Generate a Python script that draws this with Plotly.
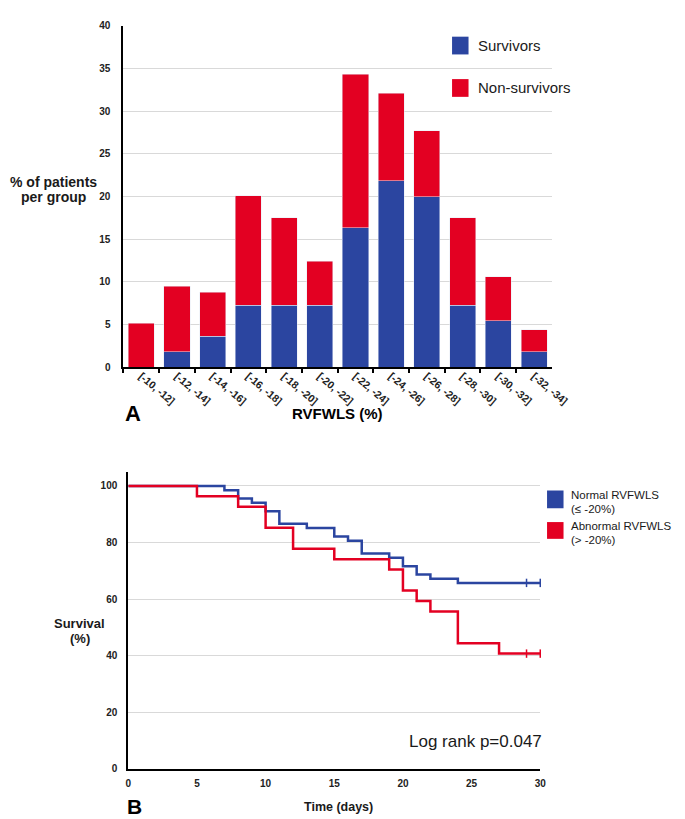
import plotly.graph_objects as go

W, H = 685, 819
FONT = "Liberation Sans, Arial, sans-serif"
BLUE = "#2b45a0"
RED = "#e30022"
GRID = "#d9d9d9"

# Panel A: RVFWLS distribution, % of patients per group
rvfwls_bins = ["[-10, -12]", "[-12, -14]", "[-14, -16]", "[-16, -18]", "[-18, -20]", "[-20, -22]",
               "[-22, -24]", "[-24, -26]", "[-26, -28]", "[-28, -30]", "[-30, -32]", "[-32, -34]"]
survivors_pct = [0, 1.82, 3.64, 7.27, 7.27, 7.27, 16.36, 21.82, 20.0, 7.27, 5.45, 1.82]
non_survivors_pct = [5.13, 7.69, 5.13, 12.82, 10.26, 5.13, 17.95, 10.26, 7.69, 10.26, 5.13, 2.56]

# Panel B: Kaplan-Meier survival
normal_days = [0, 7, 8, 9, 10, 11, 13, 15, 16, 17, 19, 20, 21, 22, 24, 30]
normal_surv = [100, 98.5, 95.5, 94.0, 91.0, 86.6, 85.1, 82.1, 80.6, 76.1, 74.6, 71.6, 68.7, 67.2, 65.7, 65.7]
abnormal_days = [0, 5, 8, 10, 12, 15, 19, 20, 21, 22, 24, 27, 30]
abnormal_surv = [100, 96.3, 92.6, 85.2, 77.8, 74.1, 70.4, 63.0, 59.3, 55.6, 44.4, 40.7, 40.7]
censor_days = [29, 30]
normal_censor = [65.7, 65.7]
abnormal_censor = [40.7, 40.7]


def px(x):
    return x / W


def py(y):
    return 1 - y / H


fig = go.Figure()

fig.add_trace(go.Bar(x=rvfwls_bins, y=survivors_pct, marker_color=BLUE, name="Survivors",
                     xaxis="x", yaxis="y"))
fig.add_trace(go.Bar(x=rvfwls_bins, y=non_survivors_pct, marker_color=RED, name="Non-survivors",
                     xaxis="x", yaxis="y"))

fig.add_trace(go.Scatter(x=normal_days, y=normal_surv, mode="lines",
                         line=dict(shape="hv", color=BLUE, width=2.5), xaxis="x2", yaxis="y2"))
fig.add_trace(go.Scatter(x=abnormal_days, y=abnormal_surv, mode="lines",
                         line=dict(shape="hv", color=RED, width=2.5), xaxis="x2", yaxis="y2"))
# censored observations
fig.add_trace(go.Scatter(x=censor_days, y=normal_censor, mode="markers", cliponaxis=False,
                         marker=dict(symbol="line-ns-open", size=6, color=BLUE,
                                     line=dict(color=BLUE, width=1.5)),
                         xaxis="x2", yaxis="y2"))
fig.add_trace(go.Scatter(x=censor_days, y=abnormal_censor, mode="markers", cliponaxis=False,
                         marker=dict(symbol="line-ns-open", size=6, color=RED,
                                     line=dict(color=RED, width=1.5)),
                         xaxis="x2", yaxis="y2"))

tickfont = dict(family=FONT, size=10, color="#222", weight="bold")

annotations = []


def label(text, x, y, size, anchor="center", bold=False, color="#1a1a1a"):
    annotations.append(dict(
        text=f"<b>{text}</b>" if bold else text, x=px(x), y=py(y), xref="paper", yref="paper",
        xanchor=anchor, yanchor="middle", showarrow=False, borderpad=0,
        font=dict(family=FONT, size=size, color=color)))


label("% of patients", 44, 171, 14, bold=True)
label("per group", 44, 187, 14, bold=True)
label("A", 117, 406, 22, anchor="left", bold=True, color="black")
label("RVFWLS (%)", 337, 406, 15, bold=True, color="black")
label("Survivors", 481, 33, 15, anchor="left")
label("Non-survivors", 481, 76, 15, anchor="left")

label("Normal RVFWLS", 577, 489, 11.5, anchor="left")
label("(≤ -20%)", 577, 503, 11.5, anchor="left")
label("Abnormal RVFWLS", 577, 520, 11.5, anchor="left")
label("(> -20%)", 577, 534, 11.5, anchor="left")
label("Log rank p=0.047", 549, 738, 17, anchor="right")
label("Survival", 71, 619, 13, bold=True)
label("(%)", 71, 634, 13, bold=True)
label("B", 119, 804, 21, anchor="left", bold=True, color="black")
label("Time (days)", 338, 805, 12.5, bold=True)

shapes = []
for (x0, y0, x1, y1, c) in [(455, 24, 472, 42, BLUE), (455, 67, 472, 85, RED),
                            (553, 484, 570, 502, BLUE), (553, 516, 570, 533, RED)]:
    shapes.append(dict(type="rect", xref="paper", yref="paper", x0=px(x0), x1=px(x1),
                       y0=py(y1), y1=py(y0), fillcolor=c, line=dict(width=0)))

fig.update_layout(
    width=W, height=H,
    margin=dict(l=0, r=0, t=0, b=0),
    paper_bgcolor="white", plot_bgcolor="white",
    showlegend=False,
    barmode="stack", bargap=0.27,
    xaxis=dict(domain=[px(116), px(558)], anchor="y", type="category",
               showline=True, linecolor="black", linewidth=2, showgrid=False,
               ticks="outside", tickson="boundaries", ticklen=4, tickwidth=2, tickcolor="black",
               tickangle=40, ticklabelstandoff=-3,
               tickfont=dict(family=FONT, size=10.5, color="#222", weight="bold")),
    yaxis=dict(domain=[py(359), py(13)], anchor="x", range=[0, 40], dtick=5,
               showgrid=True, gridcolor=GRID, gridwidth=1, zeroline=False,
               showline=True, linecolor="black", linewidth=2, ticks="",
               ticklabelstandoff=9, tickfont=tickfont),
    xaxis2=dict(domain=[px(121), px(546)], anchor="y2", range=[0, 30], dtick=5,
                showgrid=False, zeroline=False, showline=True, linecolor="black", linewidth=2,
                ticks="", ticklabelstandoff=4, tickfont=tickfont),
    yaxis2=dict(domain=[py(766), py(465)], anchor="x2", range=[0, 105],
                tickvals=[0, 20, 40, 60, 80, 100],
                showgrid=True, gridcolor=GRID, gridwidth=1, zeroline=False,
                showline=True, linecolor="black", linewidth=2, ticks="",
                ticklabelstandoff=7, tickfont=tickfont),
    annotations=annotations,
    shapes=shapes,
)

fig.write_html("out.html")
